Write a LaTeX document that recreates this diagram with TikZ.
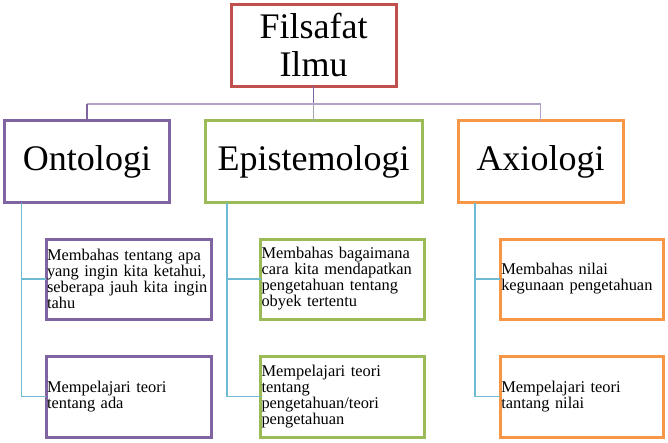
\documentclass[tikz,border=0pt]{standalone}
\usepackage{fontspec}
\setmainfont{Liberation Serif}

\definecolor{rootred}{RGB}{192,80,77}
\definecolor{ontopurple}{RGB}{128,100,162}
\definecolor{episgreen}{RGB}{155,187,89}
\definecolor{axioorange}{RGB}{247,150,70}
\definecolor{buslavender}{RGB}{179,162,199}
\definecolor{stubgrey}{RGB}{166,166,166}
\definecolor{childblue}{RGB}{110,186,210}

\begin{document}
\begin{tikzpicture}[x=1pt,y=1pt,yscale=-1,xscale=1,
		bigbox/.style={draw, line width=3pt, fill=white, inner sep=0pt, outer sep=0pt, minimum height=82pt, align=center, font=\fontsize{36}{37}\selectfont},
		childbox/.style={draw, line width=3pt, fill=white, inner xsep=1pt, inner ysep=0pt, outer sep=0pt, align=left, font=\fontsize{16.4}{16}\selectfont},
		busline/.style={line width=1.2pt, buslavender},
		childline/.style={line width=1.2pt, childblue}]
		% Set the page to the size of the diagram
		\useasboundingbox (0,0) rectangle (668,442);

		% The top box "Filsafat Ilmu" in red
		\node[bigbox, draw=rootred, minimum width=165pt] (root) at (313.5,45) {Filsafat\\Ilmu};

		% The three boxes of the second row
		\node[bigbox, draw=ontopurple, minimum width=165pt] (onto) at (87,161.5) {Ontologi};
		\node[bigbox, draw=episgreen, minimum width=217pt] (epis) at (313.5,161.5) {Epistemologi};
		\node[bigbox, draw=axioorange, minimum width=165pt] (axio) at (540.5,161.5) {Axiologi};

		% The boxes below "Ontologi" in purple
		\node[childbox, draw=ontopurple, text width=163pt, minimum height=80pt] (onto1) at (128.5,279) {Membahas tentang apa\\yang ingin kita ketahui,\\seberapa jauh kita ingin\\tahu};
		\node[childbox, draw=ontopurple, text width=163pt, minimum height=81pt] (onto2) at (128.5,396.5) {Mempelajari teori\\tentang ada};

		% The boxes below "Epistemologi" in green
		\node[childbox, draw=episgreen, text width=162pt, minimum height=80pt] (epis1) at (342.5,279) {Membahas bagaimana\\cara kita mendapatkan\\pengetahuan tentang\\obyek tertentu};
		\node[childbox, draw=episgreen, text width=162pt, minimum height=81pt] (epis2) at (342.5,396.5) {Mempelajari teori\\tentang\\pengetahuan/teori\\pengetahuan};

		% The boxes below "Axiologi" in orange
		\node[childbox, draw=axioorange, text width=161.5pt, minimum height=80pt] (axio1) at (582,279) {Membahas nilai\\kegunaan pengetahuan};
		\node[childbox, draw=axioorange, text width=161.5pt, minimum height=81pt] (axio2) at (582,396.5) {Mempelajari teori\\tantang nilai};

		% The horizontal line joining the second row to the top box
		\coordinate (bus) at (313.5,104);
		\draw[line width=1.2pt, ontopurple] (root.south) -- (bus);
		\draw[busline] (onto.north |- bus) -- (axio.north |- bus);
		\draw[line width=1.2pt, ontopurple] (bus -| onto.north) -- (onto.north);
		\draw[line width=1.2pt, stubgrey] (bus) -- (epis.north);
		\draw[busline] (bus -| axio.north) -- (axio.north);

		% The light blue lines from each box of the second row to its two boxes
		\coordinate (ontotrunk) at ([xshift=17pt]onto.south west);
		\coordinate (epistrunk) at ([xshift=22pt]epis.south west);
		\coordinate (axiotrunk) at ([xshift=17pt]axio.south west);
		\draw[childline] (ontotrunk) |- (onto1.west);
		\draw[childline] (ontotrunk) |- (onto2.west);
		\draw[childline] (epistrunk) |- (epis1.west);
		\draw[childline] (epistrunk) |- (epis2.west);
		\draw[childline] (axiotrunk) |- (axio1.west);
		\draw[childline] (axiotrunk) |- (axio2.west);
	\end{tikzpicture}
\end{document}
